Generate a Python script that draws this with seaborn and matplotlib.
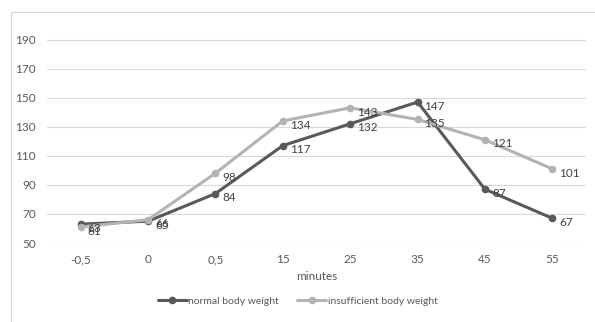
import seaborn as sns
import matplotlib.pyplot as plt
import pandas as pd
from matplotlib.patches import Rectangle

# Data
minutes = ["-0,5", "0", "0,5", "15", "25", "35", "45", "55"]
normal_weight = [63, 65, 84, 117, 132, 147, 87, 67]
insufficient_weight = [61, 66, 98, 134, 143, 135, 121, 101]
series_names = ["normal body weight", "insufficient body weight"]
colors = ["#595959", "#b3b3b3"]

df = pd.DataFrame({
    "minutes": minutes * 2,
    "value": normal_weight + insufficient_weight,
    "group": [series_names[0]] * len(minutes) + [series_names[1]] * len(minutes),
})

sns.set_style("white")
plt.rcParams["font.family"] = ["Lato", "DejaVu Sans"]

fig = plt.figure(figsize=(5.95, 3.22), dpi=100)
ax = fig.add_axes([47 / 595, 1 - 243 / 322, (586 - 47) / 595, (243 - 25) / 322])

sns.lineplot(data=df, x="minutes", y="value", hue="group", palette=colors,
             marker="o", markersize=5.5, markeredgewidth=0, linewidth=2.2,
             sort=False, ax=ax, legend=True)

# data labels
for vals in [normal_weight, insufficient_weight]:
    for i, v in enumerate(vals):
        ax.annotate(str(v), (i, v), xytext=(5, -3), textcoords="offset points",
                    fontsize=8.5, color="#404040", va="center", ha="left")

ax.set_ylim(50, 200)
ax.set_xlim(-0.5, len(minutes) - 0.5)
ax.set_yticks(range(50, 200, 20))
ax.yaxis.grid(True, color="#d9d9d9", linewidth=0.8)
ax.set_axisbelow(True)
for s in ax.spines.values():
    s.set_visible(False)
ax.tick_params(axis="both", length=0, labelsize=8.5, labelcolor="#595959", pad=8)
ax.set_xlabel("minutes", fontsize=8.5, color="#595959", labelpad=4)
ax.set_ylabel("")

handles, labels = ax.get_legend_handles_labels()
ax.legend(handles, labels, loc="center", bbox_to_anchor=(0.5, 1 - 301 / 322),
          bbox_transform=fig.transFigure, ncol=2, frameon=False, fontsize=7.5,
          labelcolor="#595959", handlelength=2.8, handletextpad=0.1, columnspacing=1.8)

# chart frame
fig.patches.append(Rectangle((11 / 595, -0.1), 1.0, 1.1 - 12 / 322, transform=fig.transFigure,
                             fill=False, edgecolor="#d9d9d9", linewidth=0.8))

fig.savefig("out.png", dpi=100)
